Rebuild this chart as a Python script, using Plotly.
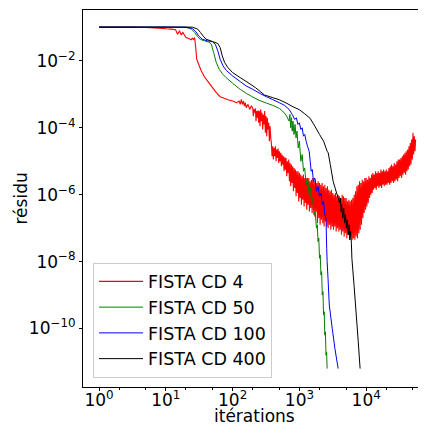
import numpy as np
import plotly.graph_objects as go

# ---------------- data (iterations, log10 residual) -------------
# FISTA CD 4: smooth start, then a very noisy band
red_x = [1, 2, 3, 4, 5, 6, 8, 10, 12, 14, 15, 16, 17, 18, 20, 22, 24, 25, 26, 27, 28, 29,
         31, 34, 38, 44, 50, 57, 65, 75, 85, 100, 115, 125, 130, 135, 140, 145, 150, 155,
         160, 170, 180, 190,
         200, 204, 209, 214, 219, 224, 229, 234, 240, 245,
         251, 257, 263, 269, 275, 282, 288, 295, 302, 309,
         316, 324, 331, 339, 347, 355, 363, 372, 380, 389,
         398, 407, 417, 427, 437, 447, 457, 468, 479, 490,
         501, 513, 525, 537, 550, 562, 575, 589, 603, 617,
         631, 646, 661, 676, 692, 708, 724, 741, 759, 776,
         794, 813, 832, 851, 871, 891, 912, 933, 955, 977,
         1000, 1023, 1047, 1072, 1096, 1122, 1148, 1175, 1202, 1230,
         1259, 1288, 1318, 1349, 1380, 1413, 1445, 1479, 1514, 1549,
         1585, 1622, 1660, 1698, 1738, 1778, 1820, 1862, 1905, 1950,
         1995, 2042, 2089, 2138, 2188, 2239, 2291, 2344, 2399, 2455,
         2512, 2570, 2630, 2692, 2754, 2818, 2884, 2951, 3020, 3090,
         3162, 3236, 3311, 3388, 3467, 3548, 3631, 3715, 3802, 3890,
         3981, 4074, 4169, 4266, 4365, 4467, 4571, 4677, 4786, 4898,
         5012, 5129, 5248, 5370, 5495, 5623, 5754, 5888, 6026, 6166,
         6310, 6457, 6607, 6761, 6918, 7079, 7244, 7413, 7586, 7762,
         7943, 8128, 8318, 8511, 8710, 8913, 9120, 9333, 9550, 9772,
         10000, 10233, 10471, 10715, 10965, 11220, 11482, 11749, 12023, 12303,
         12589, 12882, 13183, 13490, 13804, 14125, 14454, 14791, 15136, 15488,
         15849, 16218, 16596, 16982, 17378, 17783, 18197, 18621, 19055, 19498,
         19953, 20417, 20893, 21380, 21878, 22387, 22909, 23442, 23988, 24547,
         25119, 25704, 26303, 26915, 27542, 28184, 28840, 29512, 30200, 30903,
         31623, 32359, 33113, 33884, 34674, 35481, 36308, 37154, 38019, 38905,
         39811, 40738, 41687, 42658, 43652, 44668, 45709, 46774, 47863, 48978,
         50119, 51286, 52481, 53703, 54954]
red_log = [-0.99, -0.99, -0.99, -0.995, -1.0, -1.01, -1.02, -1.04, -1.05, -1.07, -1.2, -1.1,
           -1.22, -1.15, -1.3, -1.33, -1.37, -1.32, -1.36, -1.3, -1.6, -1.95,
           -2.1, -2.3, -2.48, -2.65, -2.8, -2.95, -3.07, -3.12, -3.16, -3.2, -3.25, -3.2,
           -3.3, -3.15, -3.3, -3.2, -3.35, -3.25, -3.4, -3.3, -3.45, -3.35,
           -3.40, -3.65, -3.45, -3.55, -3.42, -3.80, -3.50, -3.70, -3.48, -3.85,
           -3.50, -3.95, -3.45, -3.80, -3.55, -4.05, -3.60, -3.90, -3.50, -4.15,
           -3.65, -4.25, -3.70, -4.05, -3.85, -4.40, -3.95, -4.30, -4.45, -4.85,
           -4.55, -4.95, -4.60, -4.85, -4.55, -5.00, -4.65, -4.90, -4.62, -5.05,
           -4.70, -5.00, -4.75, -5.15, -4.80, -5.10, -4.85, -5.30, -4.88, -5.25,
           -4.90, -5.45, -5.00, -5.35, -4.95, -5.60, -5.05, -5.75, -5.10, -5.65,
           -5.15, -5.90, -5.20, -5.80, -5.25, -6.05, -5.30, -5.95, -5.30, -6.20,
           -5.35, -6.10, -5.40, -6.30, -5.45, -6.15, -5.40, -6.35, -5.50, -6.25,
           -5.50, -6.45, -5.55, -6.30, -5.50, -6.50, -5.60, -6.40, -5.55, -6.55,
           -5.50, -6.45, -5.60, -6.65, -5.55, -6.50, -5.65, -6.85, -5.60, -6.70,
           -5.65, -6.90, -5.70, -6.75, -5.65, -6.85, -5.75, -6.95, -5.70, -6.80,
           -5.80, -6.95, -5.75, -7.00, -5.85, -6.90, -5.90, -7.05, -5.85, -6.95,
           -5.95, -7.05, -6.00, -6.95, -5.95, -7.10, -6.05, -7.00, -6.00, -7.10,
           -6.05, -7.05, -6.10, -7.20, -6.00, -7.10, -6.05, -7.25, -6.10, -7.15,
           -6.10, -7.30, -6.20, -7.20, -6.15, -7.35, -6.20, -7.25, -6.15, -7.35,
           -6.10, -7.30, -6.00, -7.35, -5.90, -7.25, -5.75, -7.30, -5.70, -7.15,
           -5.60, -7.05, -5.65, -6.90, -5.55, -6.70, -5.60, -6.55, -5.50, -6.45,
           -5.50, -6.35, -5.55, -6.25, -5.45, -6.10, -5.50, -6.00, -5.40, -5.95,
           -5.35, -5.85, -5.40, -5.80, -5.30, -5.85, -5.35, -5.75, -5.30, -5.80,
           -5.35, -5.75, -5.25, -5.80, -5.30, -5.70, -5.25, -5.75, -5.30, -5.70,
           -5.25, -5.70, -5.30, -5.65, -5.20, -5.70, -5.15, -5.65, -5.10, -5.60,
           -5.15, -5.65, -5.05, -5.60, -5.10, -5.55, -5.00, -5.60, -4.95, -5.50,
           -4.95, -5.45, -4.90, -5.50, -4.85, -5.40, -4.80, -5.35, -4.75, -5.40,
           -4.70, -5.30, -4.65, -5.25, -4.55, -5.15, -4.45, -5.10, -4.35, -4.95,
           -4.15, -4.80, -4.25, -4.70, -4.35]

green_x = [1, 10, 20, 24, 27, 30, 33, 38, 44, 48, 52, 57, 63, 70, 80, 100, 130, 160, 200,
           250, 320, 400, 500, 560, 630, 700, 720, 740, 760, 780, 800, 830, 860, 890, 920,
           960, 1000, 1050, 1100, 1150, 1200, 1260, 1320, 1400, 1450, 1520, 1580, 1650,
           1720, 1800, 1850, 1900, 1950, 2000, 2050, 2100, 2150, 2200, 2250, 2300, 2350,
           2400, 2450, 2500, 2550, 2600]
green_log = [-0.99, -0.99, -1.0, -1.04, -1.15, -1.28, -1.36, -1.4, -1.44, -1.5, -1.75,
             -2.05, -2.25, -2.38, -2.5, -2.67, -2.85, -2.97, -3.08, -3.18, -3.26, -3.33,
             -3.42, -3.5, -3.62, -3.8, -3.6, -4.0, -3.7, -4.1, -3.8, -4.2, -3.9, -4.3,
             -4.1, -4.6, -4.4, -5.0, -4.8, -5.3, -5.2, -5.7, -5.5, -6.0, -5.8, -6.2,
             -6.1, -6.6, -6.5, -7.0, -6.9, -7.4, -7.3, -7.9, -7.8, -8.4, -8.3, -9.0,
             -8.9, -9.6, -9.5, -10.2, -10.1, -10.8, -10.7, -11.2]

blue_x = [1, 20, 25, 28, 31, 35, 42, 50, 55, 60, 65, 72, 80, 100, 130, 160, 200, 260,
          320, 400, 500, 600, 700, 780, 850, 900, 950, 1000, 1050, 1100, 1150, 1200,
          1260, 1320, 1400, 1450, 1500, 1560, 1620, 1700, 1800, 1900, 2000, 2100, 2200,
          2300, 2400, 2500, 2560, 2600, 2680, 2800, 3100, 3400, 3800]
blue_log = [-0.99, -0.99, -1.03, -1.12, -1.25, -1.35, -1.4, -1.43, -1.5, -1.7, -1.95,
            -2.15, -2.28, -2.45, -2.62, -2.75, -2.85, -2.98, -3.07, -3.16, -3.25, -3.33,
            -3.45, -3.6, -3.75, -3.7, -3.9, -3.85, -4.05, -4.0, -4.25, -4.2, -4.4, -4.55,
            -4.7, -5.0, -5.3, -5.25, -5.6, -5.5, -5.9, -5.75, -6.05, -5.95, -6.3, -6.2,
            -6.6, -6.7, -7.6, -8.0, -8.5, -9.3, -10.0, -10.6, -11.2]

black_x = [1, 25, 30, 33, 36, 40, 50, 60, 65, 70, 76, 85, 100, 130, 170, 220, 300, 400,
           500, 650, 800, 1000, 1200, 1450, 1700, 2000, 2300, 2600, 2700, 2900, 3200,
           3600, 4000, 4100, 4200, 4300, 4450, 4600, 4750, 4900, 5050, 5200, 5400, 5550,
           5700, 5850, 6000, 6100, 6600, 7100, 7600, 8100]
black_log = [-0.99, -0.99, -1.05, -1.15, -1.25, -1.35, -1.42, -1.48, -1.6, -1.85, -2.05,
             -2.2, -2.35, -2.5, -2.65, -2.8, -3.02, -3.1, -3.16, -3.27, -3.37, -3.46,
             -3.58, -3.72, -3.95, -4.2, -4.4, -4.7, -4.75, -5.1, -5.6, -5.95, -6.25,
             -6.1, -6.5, -6.3, -6.7, -6.4, -6.85, -6.6, -7.0, -6.75, -7.2, -6.9, -7.35,
             -7.1, -7.45, -7.9, -8.75, -9.6, -10.4, -11.2]

series = [
    ("FISTA CD 4", red_x, red_log, "#ff0000", 1.1),
    ("FISTA CD 50", green_x, green_log, "#008000", 1.0),
    ("FISTA CD 100", blue_x, blue_log, "#0000ff", 1.0),
    ("FISTA CD 400", black_x, black_log, "#000000", 1.0),
]

x_tickvals = [1, 10, 100, 1000, 10000]
x_ticktext = ["10<sup>0</sup>", "10<sup>1</sup>", "10<sup>2</sup>", "10<sup>3</sup>", "10<sup>4</sup>"]
y_tickvals = [1e-2, 1e-4, 1e-6, 1e-8, 1e-10]
y_ticktext = ["10<sup>\u22122</sup>", "10<sup>\u22124</sup>", "10<sup>\u22126</sup>",
              "10<sup>\u22128</sup>", "10<sup>\u221210</sup>"]

# ---------------- figure -------------
fig = go.Figure()
for i, (name, xs, ls, col, lw) in enumerate(series):
    fig.add_trace(go.Scatter(
        x=xs, y=np.power(10.0, np.array(ls)), mode="lines", name=name,
        line=dict(color=col, width=lw, simplify=False), legendgroup=str(i)))

font = "DejaVu Sans"
OFF = 8  # default body margin of the html page
W, H = 418, 419
ML, MR, MT, MB = 75, 0, 2, 40
PW, PH = W - ML - MR, H - MT - MB
fig.update_layout(
    width=W, height=H,
    margin=dict(l=ML, r=MR, t=MT, b=MB, autoexpand=False),
    paper_bgcolor="white", plot_bgcolor="white",
    font=dict(family=font, size=17, color="black"),
    showlegend=True,
    legend=dict(x=(93 - OFF - ML) / PW, y=(H - MB - (377.5 - OFF)) / PH,
                xanchor="left", yanchor="bottom",
                bgcolor="rgba(255,255,255,0.8)", bordercolor="#cccccc", borderwidth=1,
                font=dict(family=font, size=17.5, color="black"),
                itemwidth=44, tracegroupgap=0, traceorder="grouped"),
    annotations=[
        dict(text="itérations", xref="paper", yref="paper",
             x=0.5, y=-((416 - OFF) - (H - MB)) / PH, xanchor="center", yanchor="middle",
             showarrow=False, font=dict(family=font, size=17)),
        dict(text="résidu", xref="paper", yref="paper", textangle=-90,
             x=-(ML - (20 - OFF)) / PW, y=0.5, xanchor="center", yanchor="middle",
             showarrow=False, font=dict(family=font, size=17)),
    ],
)
fig.update_xaxes(
    type="log", range=[-0.24, 4.895], automargin=False,
    tickvals=x_tickvals, ticktext=x_ticktext, ticklabelstandoff=-5,
    ticks="outside", ticklen=3, tickcolor="black", tickwidth=1,
    minor=dict(ticks="outside", ticklen=2, tickcolor="black", showgrid=False),
    showline=True, linecolor="black", linewidth=1, mirror=True,
    showgrid=False, zeroline=False,
)
fig.update_yaxes(
    type="log", range=[-11.75, -0.478], automargin=False,
    tickvals=y_tickvals, ticktext=y_ticktext,
    ticks="outside", ticklen=3, tickcolor="black", tickwidth=1,
    showline=True, linecolor="black", linewidth=1, mirror=False,
    showgrid=False, zeroline=False,
)

fig.write_html("out.html")
